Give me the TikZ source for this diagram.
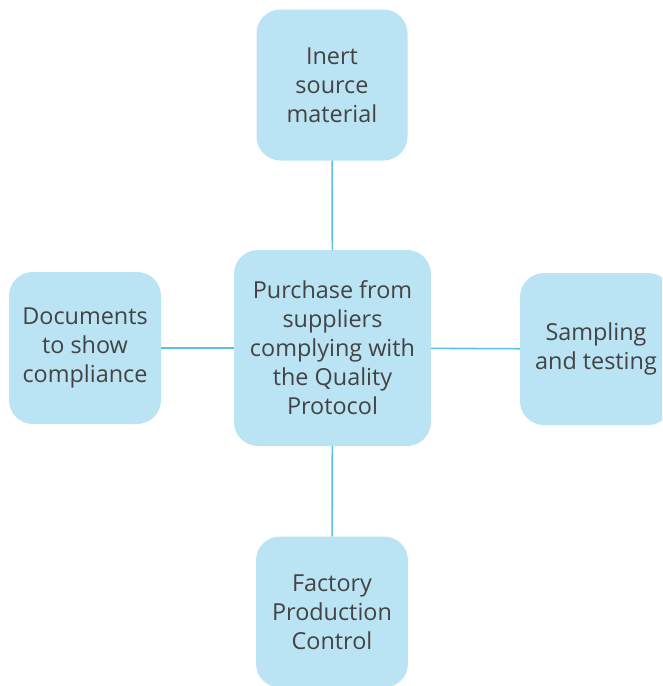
\documentclass[tikz,border=0pt]{standalone}
\usepackage{fontspec}
\setmainfont{Open Sans}
\definecolor{boxfill}{HTML}{BAE3F3}
\definecolor{linkcol}{HTML}{5BC0E5}
\definecolor{textcol}{HTML}{434343}
\tikzset{
	topic/.style={rounded corners=24pt,fill=boxfill,text=textcol,align=center,
		font=\fontsize{23.4}{29}\selectfont,inner sep=0pt},
	link/.style={draw=linkcol,line width=1.6pt}
}
\begin{document}
\begin{tikzpicture}[x=1pt,y=-1pt]
			\useasboundingbox (0,0) rectangle (662,686);
			\clip (0,0) rectangle (662,686);
			\node[topic,minimum width=197pt,minimum height=196pt] (center) at (332.5,348) {Purchase from\\suppliers\\complying with\\the Quality\\Protocol};
			\node[topic,minimum width=151pt,minimum height=151pt] (inert) at (332,85) {Inert\\source\\material};
			\node[topic,minimum width=152pt,minimum height=152pt] (docs) at (85,348) {Documents\\to show\\compliance};
			\node[topic,minimum width=152pt,minimum height=152pt] (sampling) at (596,349) {Sampling\\and testing};
			\node[topic,minimum width=152pt,minimum height=151pt] (factory) at (332,612) {Factory\\Production\\Control};
			\draw[link] (center) -- (inert); \draw[link] (center) -- (docs);
			\draw[link] (center) -- (sampling); \draw[link] (center) -- (factory);
	\end{tikzpicture}
\end{document}
